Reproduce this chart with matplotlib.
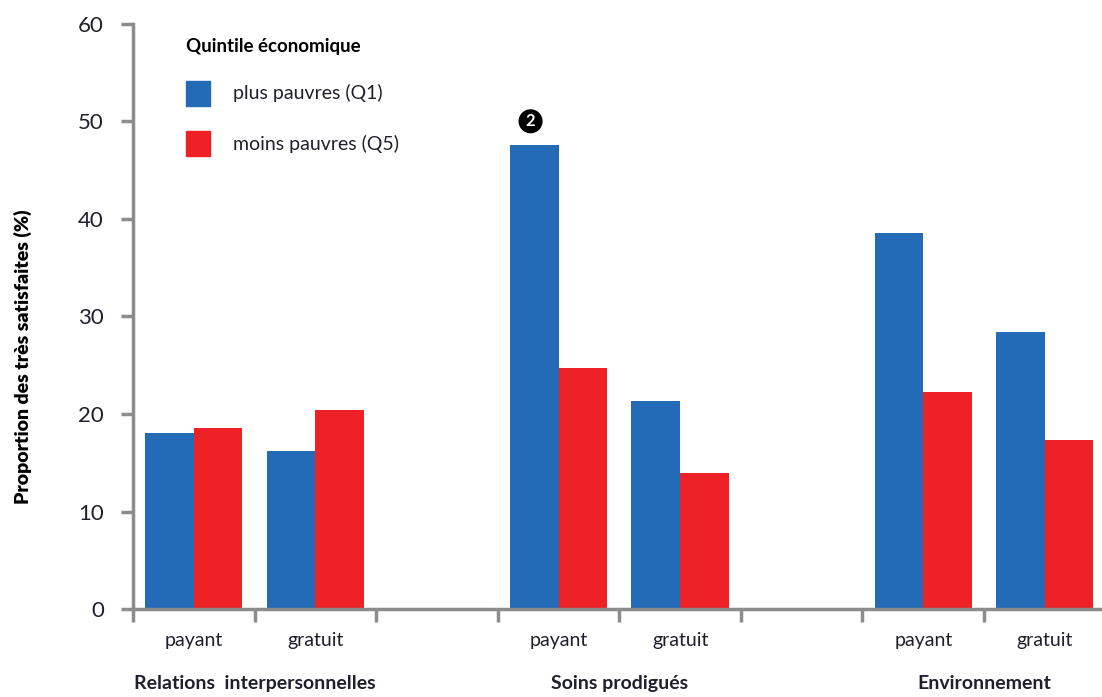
import numpy as np
import matplotlib.pyplot as plt
from matplotlib.patches import Patch

# ── Data ─────────────────────────────────────────────────────
groups = ['Relations  interpersonnelles', 'Soins prodigués', 'Environnement']
subcats = ['payant', 'gratuit']
q1 = [18.1, 16.2, 47.6, 21.3, 38.5, 28.4]   # plus pauvres (Q1)
q5 = [18.6, 20.4, 24.7, 14.0, 22.3, 17.3]   # moins pauvres (Q5)
y_ticks = [0, 10, 20, 30, 40, 50, 60]

blue = '#236BB7'
red = '#EE2126'
gray = '#8C8C8C'
txt = '#1F1F2E'

plt.rcParams['font.family'] = ['Lato', 'DejaVu Sans']

fig = plt.figure(figsize=(11.02, 6.97), dpi=100)
ax = fig.add_axes([0.1207, 0.126, 0.8793, 0.84])

# slot positions: 2 bars per group, one empty slot between groups
slots = [0, 1, 3, 4, 6, 7]
w = 0.4
for s, a, b in zip(slots, q1, q5):
    ax.bar(s + 0.1, a, width=w, align='edge', color=blue)
    ax.bar(s + 0.5, b, width=w, align='edge', color=red)

ax.set_xlim(0, 7.97)
ax.set_ylim(0, 60)
ax.set_yticks(y_ticks)
ax.set_xticks(np.arange(0, 8))
ax.set_xticklabels([])
for sp in ['top', 'right']:
    ax.spines[sp].set_visible(False)
for sp in ['left', 'bottom']:
    ax.spines[sp].set_color(gray)
    ax.spines[sp].set_linewidth(2.5)
ax.tick_params(axis='both', color=gray, width=2.5, length=9)
ax.tick_params(axis='y', labelsize=16, labelcolor=txt, pad=12)

# sub-category labels
for i, s in enumerate(slots):
    ax.text(s + 0.5, -3.2, subcats[i % 2], ha='center', va='center',
            fontsize=14, color=txt)
# group labels
for g, s in zip(groups, [1, 4, 7]):
    ax.text(s, -7.6, g, ha='center', va='center', fontsize=14,
            fontweight='bold', color=txt)

fig.text(0.021, 0.488, 'Proportion des très satisfaites (%)', rotation=90,
         ha='center', va='center', fontsize=14, fontweight='heavy', color='black')

# legend
handles = [Patch(color=blue, label='plus pauvres (Q1)'),
           Patch(color=red, label='moins pauvres (Q5)')]
leg = ax.legend(handles=handles, title='Quintile économique', loc='upper left',
                bbox_to_anchor=(0.037, 1.005), frameon=False, fontsize=14,
                handlelength=1.2, handleheight=1.6, handletextpad=1.2,
                labelspacing=1.3, alignment='left')
leg.get_title().set_fontweight('bold')
leg.get_title().set_fontsize(13.5)
for t in leg.get_texts():
    t.set_color(txt)

# numbered marker
ax.text(3.27, 50.0, '2', ha='center', va='center', fontsize=12, color='white',
        fontweight='bold',
        bbox=dict(boxstyle='circle,pad=0.2', fc='black', ec='black'))

fig.savefig('out.png', dpi=100)
